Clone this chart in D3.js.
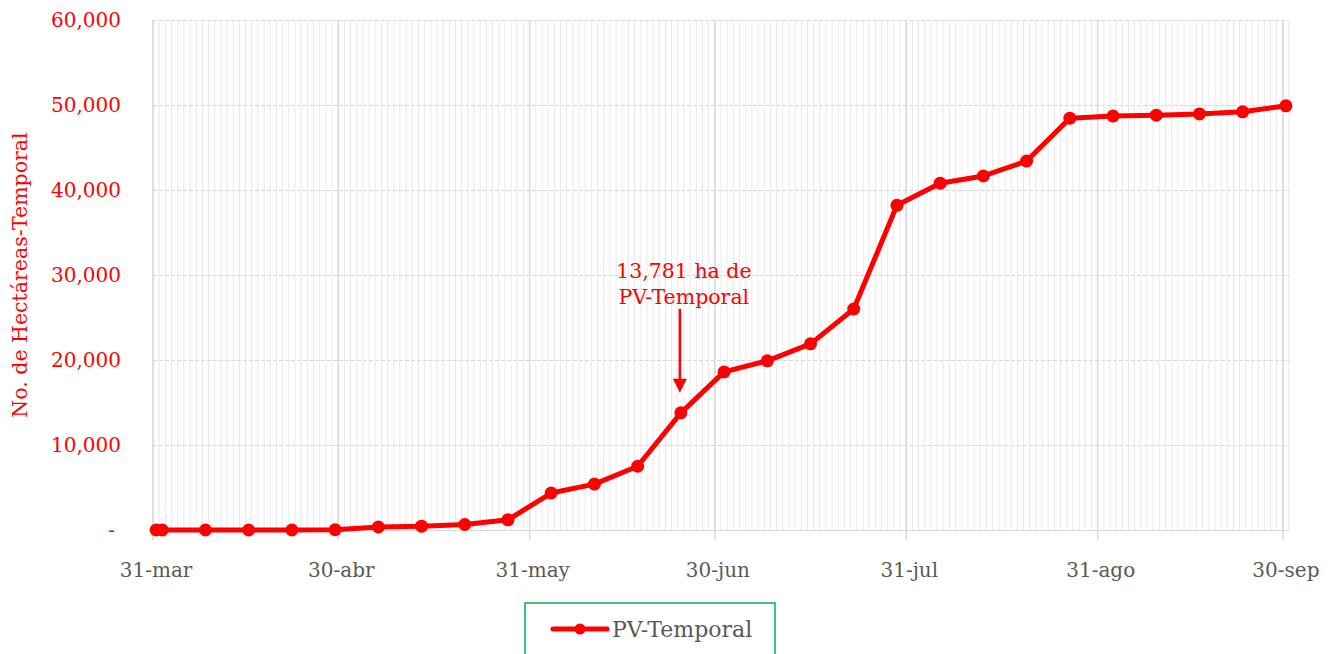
<!DOCTYPE html>
<html>
<head>
<meta charset="utf-8">
<script src="https://cdn.jsdelivr.net/npm/d3@7"></script>
<style>
  body { margin: 0; background: #fff; }
  svg text { font-family: "DejaVu Serif", "Liberation Serif", serif; }
</style>
</head>
<body>
<div id="chart"></div>
<script>

// weekly report dates (2021) and accumulated hectares
var fechas = ["2021-03-31","2021-04-01","2021-04-08","2021-04-15","2021-04-22","2021-04-29",
    "2021-05-06","2021-05-13","2021-05-20","2021-05-27","2021-06-03","2021-06-10","2021-06-17",
    "2021-06-24","2021-07-01","2021-07-08","2021-07-15","2021-07-22","2021-07-29","2021-08-05",
    "2021-08-12","2021-08-19","2021-08-26","2021-09-02","2021-09-09","2021-09-16","2021-09-23",
    "2021-09-30"];
var hectareas = [0, 0, 0, 0, 0, 30,
    350, 450, 650, 1200, 4350, 5400, 7500,
    13781, 18600, 19900, 21900, 26000, 38200, 40800,
    41650, 43400, 48450, 48700, 48800, 48950, 49200,
    49900];

var tickFechas = ["2021-03-31","2021-04-30","2021-05-31","2021-06-30","2021-07-31","2021-08-31","2021-09-30"];
var tickLabels = ["31-mar","30-abr","31-may","30-jun","31-jul","31-ago","30-sep"];
var yTicks = [0, 10000, 20000, 30000, 40000, 50000, 60000];

var serie = "PV-Temporal";
var yTitulo = "No. de Hectáreas-Temporal";
var nota = ["13,781 ha de", "PV-Temporal"];
var notaFecha = "2021-06-24", notaValor = 13781;

var parse = d3.timeParse("%Y-%m-%d");
var data = fechas.map(function(f, i) { return {date: parse(f), value: hectareas[i]}; });

var W = 1335, H = 654;
var margin = {top: 20, right: 46, bottom: 124, left: 153};
var width = W - margin.left - margin.right;
var height = H - margin.top - margin.bottom;

var svg = d3.select("#chart").append("svg")
    .attr("width", W)
    .attr("height", H)
    .append("g")
    .attr("transform", "translate(" + margin.left + "," + margin.top + ")");

var x = d3.scaleTime()
    .domain([parse("2021-03-31"), parse("2021-10-01")])
    .range([0, width]);

var y = d3.scaleLinear()
    .domain([0, 60000])
    .range([height, 0]);

// half a day: points sit between day gridlines
var mid = function(d) { return x(d3.timeHour.offset(d, 12)); };

// daily minor gridlines
svg.append("g")
    .selectAll("line")
    .data(d3.timeDay.range(parse("2021-03-31"), parse("2021-10-02")))
    .enter()
    .append("line")
    .attr("x1", d => x(d)).attr("x2", d => x(d))
    .attr("y1", 0).attr("y2", height)
    .attr("stroke", "#e9e9e9")
    .attr("stroke-width", 1);

// horizontal gridlines + labels
var yAxis = d3.axisLeft(y)
    .tickValues(yTicks)
    .tickSize(-width)
    .tickPadding(32)
    .tickFormat(d => d === 0 ? "-" : d3.format(",")(d));

var gy = svg.append("g").attr("class", "y-axis").call(yAxis);
gy.select(".domain").remove();
gy.selectAll(".tick line")
    .attr("stroke", "#d9d9d9")
    .attr("stroke-dasharray", d => d === 0 ? null : "4,2");
gy.selectAll(".tick text")
    .attr("fill", "#ff0000")
    .style("font-size", "20px")
    .attr("dx", d => d === 0 ? -6 : 0);

// major month gridlines + labels
var gx = svg.append("g")
    .attr("class", "x-axis")
    .attr("transform", "translate(0," + height + ")");

gx.selectAll("line")
    .data(tickFechas)
    .enter()
    .append("line")
    .attr("x1", d => x(parse(d))).attr("x2", d => x(parse(d)))
    .attr("y1", -height).attr("y2", 10)
    .attr("stroke", "#d9d9d9")
    .attr("stroke-width", 1.5);

gx.selectAll("text")
    .data(tickFechas)
    .enter()
    .append("text")
    .attr("x", d => mid(parse(d)))
    .attr("y", 47)
    .attr("text-anchor", "middle")
    .attr("fill", "#595959")
    .style("font-size", "20px")
    .text((d, i) => tickLabels[i]);

// y title
svg.append("text")
    .attr("transform", "translate(" + (20 - margin.left) + "," + (height / 2) + ") rotate(-90)")
    .attr("text-anchor", "middle")
    .attr("dy", "0.35em")
    .attr("fill", "#ff0000")
    .style("font-size", "20.5px")
    .text(yTitulo);

// series
var line = d3.line()
    .x(d => mid(d.date))
    .y(d => y(d.value));

svg.append("path")
    .datum(data)
    .attr("fill", "none")
    .attr("stroke", "#ff0000")
    .attr("stroke-width", 5)
    .attr("stroke-linejoin", "round")
    .attr("d", line);

svg.selectAll(".dot")
    .data(data)
    .enter()
    .append("circle")
    .attr("class", "dot")
    .attr("cx", d => mid(d.date))
    .attr("cy", d => y(d.value))
    .attr("r", 6.5)
    .attr("fill", "#ff0000");

// annotation
var ax = mid(parse(notaFecha)) - 1;
var ay = y(notaValor);
svg.append("text")
    .attr("x", ax + 4)
    .attr("y", ay - 135)
    .attr("text-anchor", "middle")
    .attr("fill", "#ff0000")
    .style("font-size", "20.5px")
    .selectAll("tspan")
    .data(nota)
    .enter()
    .append("tspan")
    .attr("x", ax + 4)
    .attr("dy", (d, i) => i === 0 ? 0 : 26)
    .text(d => d);

svg.append("line")
    .attr("x1", ax).attr("x2", ax)
    .attr("y1", ay - 104).attr("y2", ay - 30)
    .attr("stroke", "#ff0000")
    .attr("stroke-width", 2.5);

svg.append("path")
    .attr("d", "M" + (ax - 7) + "," + (ay - 34) + "L" + (ax + 7) + "," + (ay - 34) + "L" + ax + "," + (ay - 20) + "Z")
    .attr("fill", "#ff0000");

// legend
var leg = svg.append("g")
    .attr("transform", "translate(" + (525 - margin.left) + "," + (603 - margin.top) + ")");

leg.append("rect")
    .attr("width", 250)
    .attr("height", 60)
    .attr("fill", "none")
    .attr("stroke", "#00b050")
    .attr("stroke-width", 1.5);

leg.append("line")
    .attr("x1", 28).attr("x2", 82)
    .attr("y1", 26).attr("y2", 26)
    .attr("stroke", "#ff0000")
    .attr("stroke-width", 5)
    .attr("stroke-linecap", "round");

leg.append("circle")
    .attr("cx", 55).attr("cy", 26).attr("r", 5.5)
    .attr("fill", "#ff0000");

leg.append("text")
    .attr("x", 87)
    .attr("y", 26)
    .attr("dy", "0.35em")
    .attr("fill", "#595959")
    .style("font-size", "22px")
    .text(serie);

</script>
</body>
</html>
